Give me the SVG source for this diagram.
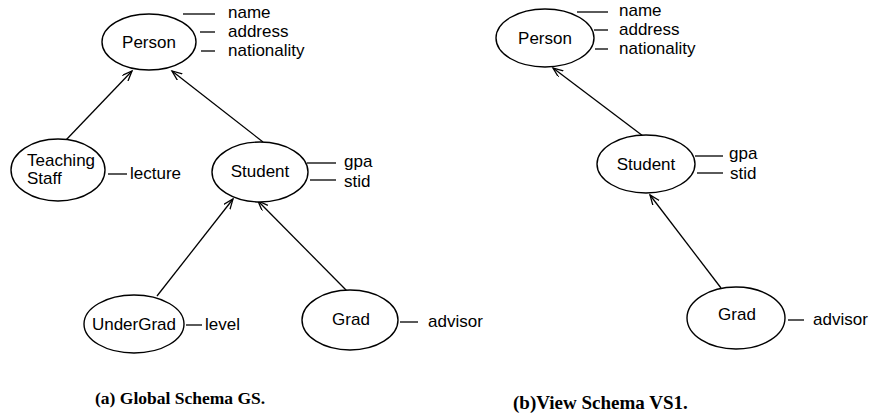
<svg xmlns="http://www.w3.org/2000/svg" width="872" height="420" viewBox="0 0 872 420">
<style>
.n{fill:#fff;stroke:#000;stroke-width:1.4}
.t{font-family:"Liberation Sans",Arial,sans-serif;font-size:17px;fill:#000}
.c{text-anchor:middle}
.a{stroke:#000;stroke-width:1.3;fill:none}
.e{stroke:#000;stroke-width:1.3;fill:none;marker-end:url(#arr)}
.cap{font-family:"Liberation Serif","Times New Roman",serif;font-weight:bold;font-size:17.5px;fill:#000}
</style>
<defs>
<marker id="arr" markerWidth="12" markerHeight="10" refX="10" refY="4" orient="auto" markerUnits="userSpaceOnUse">
<path d="M0,0 L10,4 L0,8" fill="none" stroke="#000" stroke-width="1.3"/>
</marker>
</defs>
<rect width="872" height="420" fill="#fff"/>
<g id="connectors">
<line class="e" x1="66" y1="140" x2="132" y2="71"/>
<line class="e" x1="263" y1="142" x2="172" y2="71"/>
<line class="e" x1="157" y1="296" x2="233" y2="199"/>
<line class="e" x1="347" y1="291" x2="258" y2="201"/>
<line class="e" x1="643" y1="136" x2="553" y2="68"/>
<line class="e" x1="721" y1="288" x2="650" y2="195"/>
</g>
<g id="personA">
<ellipse class="n" cx="149" cy="42" rx="47" ry="28"/>
<text class="t c" x="149" y="48">Person</text>
<line class="a" x1="183" y1="14" x2="215" y2="14"/>
<line class="a" x1="200" y1="32" x2="215" y2="32"/>
<line class="a" x1="201" y1="51" x2="215" y2="51"/>
<text class="t" x="228" y="18">name</text>
<text class="t" x="228" y="37">address</text>
<text class="t" x="228" y="56">nationality</text>
</g>
<g id="teachingStaff">
<ellipse class="n" cx="58" cy="170" rx="47" ry="31"/>
<text class="t" x="27" y="166">Teaching</text>
<text class="t" x="27" y="184">Staff</text>
<line class="a" x1="108" y1="174" x2="127" y2="174"/>
<text class="t" x="130" y="179">lecture</text>
</g>
<g id="studentA">
<ellipse class="n" cx="260" cy="172" rx="48" ry="30"/>
<text class="t c" x="260" y="177">Student</text>
<line class="a" x1="307" y1="163" x2="336" y2="163"/>
<line class="a" x1="310" y1="180" x2="336" y2="180"/>
<text class="t" x="344" y="167">gpa</text>
<text class="t" x="344" y="187">stid</text>
</g>
<g id="underGrad">
<ellipse class="n" cx="134" cy="324" rx="50" ry="29"/>
<text class="t c" x="134" y="330">UnderGrad</text>
<line class="a" x1="186" y1="325" x2="202" y2="325"/>
<text class="t" x="205" y="330">level</text>
</g>
<g id="gradA">
<ellipse class="n" cx="350" cy="320" rx="48" ry="30"/>
<text class="t c" x="351" y="325">Grad</text>
<line class="a" x1="400" y1="322" x2="418" y2="322"/>
<text class="t" x="428" y="327">advisor</text>
</g>
<g id="personB">
<ellipse class="n" cx="545" cy="38" rx="49" ry="29"/>
<text class="t c" x="545" y="44">Person</text>
<line class="a" x1="577" y1="12" x2="608" y2="12"/>
<line class="a" x1="594" y1="30" x2="608" y2="30"/>
<line class="a" x1="595" y1="49" x2="608" y2="49"/>
<text class="t" x="619" y="16">name</text>
<text class="t" x="619" y="35">address</text>
<text class="t" x="619" y="54">nationality</text>
</g>
<g id="studentB">
<ellipse class="n" cx="646" cy="164" rx="49" ry="29"/>
<text class="t c" x="646" y="170">Student</text>
<line class="a" x1="695" y1="156" x2="723" y2="156"/>
<line class="a" x1="697" y1="173" x2="723" y2="173"/>
<text class="t" x="729" y="159">gpa</text>
<text class="t" x="730" y="179">stid</text>
</g>
<g id="gradB">
<ellipse class="n" cx="736" cy="318" rx="49" ry="31"/>
<text class="t c" x="737" y="320">Grad</text>
<line class="a" x1="788" y1="320" x2="804" y2="320"/>
<text class="t" x="813" y="325">advisor</text>
</g>
<text class="cap" x="95" y="404">(a) Global Schema GS.</text>
<text class="cap" x="513" y="409" style="font-size:19px">(b)View Schema VS1.</text>
</svg>
